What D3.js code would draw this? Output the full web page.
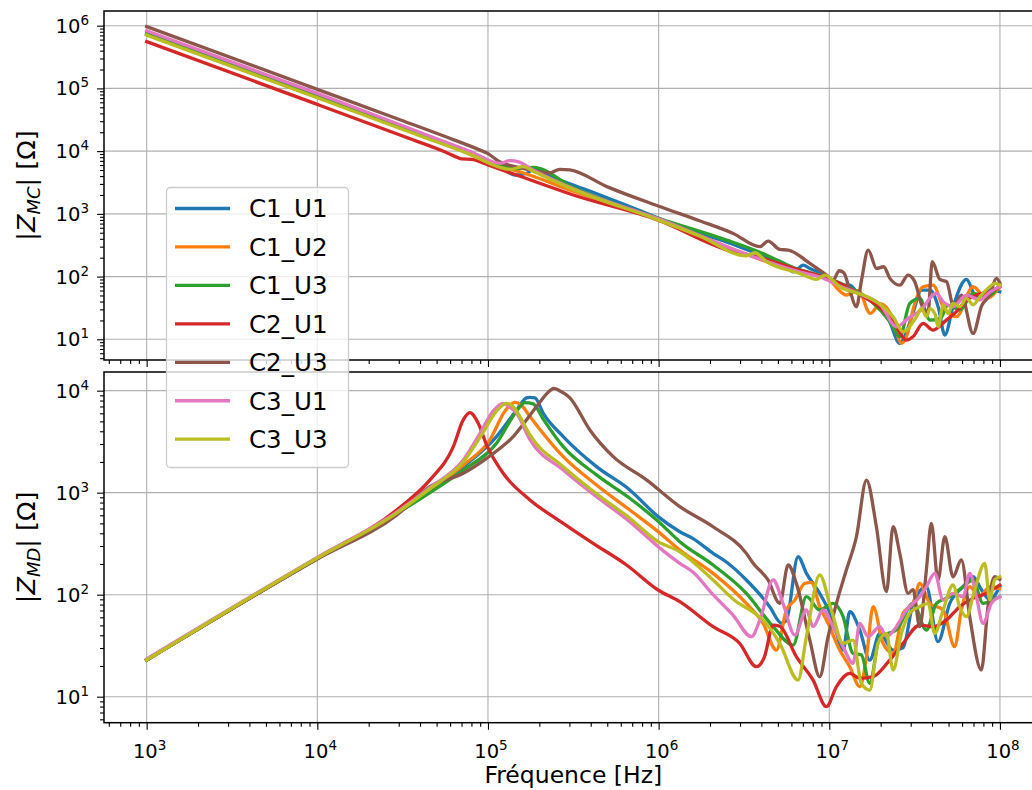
<!DOCTYPE html>
<html><head><meta charset="utf-8">
<script src="https://cdn.jsdelivr.net/npm/d3@7"></script>
<style>body{margin:0;background:#fff} text{font-family:"DejaVu Sans",sans-serif;fill:#000}</style>
</head><body><svg id="c" width="1032" height="790"></svg>
<script>
// ---- series ----
const seriesNames  = ["C1_U1","C1_U2","C1_U3","C2_U1","C2_U3","C3_U1","C3_U3"];
const seriesColors = ["#1f77b4","#ff7f0e","#2ca02c","#d62728","#8c564b","#e377c2","#bcbd22"];
// Values, stored as decade exponents:
// [log10(frequency / Hz), log10(|Z| / Ohm)]
// ---- |Z_MC| (top panel) ----
const mcC1U1 = [[3,5.875],[4,4.875],[4.6,4.27],[4.9,3.97],[5.0,3.85],[5.07,3.752],[5.158,3.619],[5.226,3.645],[5.265,3.71],[5.4,3.56],[5.6,3.36],[5.8,3.15],[6.0,2.93],[6.2,2.72],[6.4,2.55],[6.6,2.34],[6.75,2.18],[6.788,2.077],[6.808,2.103],[6.847,2.183],[6.886,2.13],[6.98,2.02],[7.06,1.86],[7.12,1.865],[7.16,1.76],[7.25,1.6],[7.35,1.3],[7.413,0.934],[7.45,1.1],[7.49,1.413],[7.54,1.785],[7.59,1.785],[7.64,1.5],[7.677,1.067],[7.725,1.52],[7.804,1.955],[7.862,1.678],[7.94,1.785],[7.999,1.758]];
const mcC1U2 = [[3,5.86],[4,4.86],[4.6,4.26],[4.9,3.96],[5.07,3.76],[5.2,3.66],[5.5,3.36],[6,2.91],[6.5,2.37],[6.8,2.09],[6.98,1.99],[7.1,1.705],[7.17,1.78],[7.24,1.413],[7.3,1.57],[7.37,1.35],[7.423,0.934],[7.46,1.1],[7.49,1.466],[7.55,1.838],[7.608,1.865],[7.667,1.52],[7.745,1.36],[7.843,1.838],[7.92,1.652],[7.999,1.838]];
const mcC1U3 = [[3,5.86],[4,4.86],[4.6,4.265],[4.9,3.97],[5.07,3.77],[5.15,3.72],[5.265,3.741],[5.5,3.42],[6,2.93],[6.398,2.582],[6.6,2.38],[6.8,2.13],[6.98,1.99],[7.1,1.85],[7.25,1.6],[7.35,1.3],[7.413,1.04],[7.472,1.572],[7.53,1.652],[7.59,1.306],[7.65,1.33],[7.696,1.545],[7.765,1.47],[7.843,1.731],[7.92,1.68],[7.999,1.865]];
const mcC2U1 = [[3,5.745],[4,4.745],[4.5,4.24],[4.75,3.985],[4.82,3.9],[4.845,3.875],[4.904,3.869],[5.0,3.78],[5.167,3.619],[5.5,3.30],[5.997,2.9],[6.437,2.396],[6.534,2.343],[6.827,2.104],[6.98,1.98],[7.1,1.84],[7.2,1.68],[7.3,1.5],[7.38,1.25],[7.452,0.987],[7.49,1.04],[7.55,1.253],[7.608,1.147],[7.686,1.306],[7.745,1.44],[7.804,1.625],[7.862,1.705],[7.94,1.758],[7.999,1.838]];
const mcC2U3 = [[3,5.985],[4,4.985],[4.484,4.5],[4.8,4.18],[4.95,4.02],[5.0,3.96],[5.068,3.83],[5.2,3.73],[5.363,3.655],[5.42,3.71],[5.48,3.70],[5.7,3.43],[5.997,3.125],[6.24,2.89],[6.437,2.688],[6.593,2.476],[6.642,2.566],[6.71,2.433],[6.759,2.423],[6.886,2.21],[6.984,2.024],[7.023,1.944],[7.058,2.093],[7.085,2.061],[7.12,1.785],[7.159,1.519],[7.189,1.944],[7.228,2.423],[7.277,2.13],[7.319,2.157],[7.355,1.971],[7.413,1.864],[7.462,2.024],[7.501,1.918],[7.546,1.519],[7.579,1.439],[7.603,2.236],[7.648,1.955],[7.687,1.918],[7.729,1.519],[7.774,1.705],[7.843,1.093],[7.892,1.529],[7.94,1.705],[7.979,1.971],[7.999,1.902]];
const mcC3U1 = [[3,5.92],[4,4.92],[4.6,4.3],[4.9,3.99],[5.07,3.805],[5.128,3.847],[5.18,3.83],[5.25,3.72],[5.5,3.40],[6.0,2.92],[6.5,2.37],[6.83,2.07],[6.95,1.99],[7.06,1.85],[7.2,1.7],[7.3,1.55],[7.394,1.2],[7.47,1.35],[7.53,1.45],[7.628,1.731],[7.667,1.6],[7.725,1.52],[7.804,1.705],[7.882,1.63],[7.94,1.75],[7.999,1.84]];
const mcC3U3 = [[3,5.85],[4,4.85],[4.6,4.245],[4.9,3.94],[5.07,3.741],[5.128,3.709],[5.207,3.752],[5.265,3.68],[5.5,3.39],[6.0,2.9],[6.24,2.646],[6.515,2.33],[6.564,2.38],[6.632,2.237],[6.827,2.05],[6.925,1.955],[6.974,2.024],[7.062,1.837],[7.198,1.705],[7.296,1.561],[7.374,1.359],[7.433,1.12],[7.462,1.173],[7.511,1.359],[7.54,1.492],[7.57,1.359],[7.59,1.49],[7.62,1.4],[7.638,1.2],[7.667,1.545],[7.696,1.41],[7.725,1.572],[7.765,1.52],[7.804,1.652],[7.843,1.55],[7.882,1.678],[7.94,1.838],[7.969,1.891],[7.999,1.865]];
// ---- |Z_MD| (bottom panel) ----
const mdC1U1 = [[3,1.36],[4,2.355],[4.465,2.795],[4.66,3.02],[4.855,3.255],[5.05,3.55],[5.168,3.811],[5.226,3.93],[5.246,3.935],[5.275,3.93],[5.324,3.778],[5.441,3.55],[5.636,3.255],[5.831,3.027],[5.997,2.765],[6.124,2.617],[6.202,2.55],[6.319,2.405],[6.397,2.32],[6.514,2.144],[6.612,1.965],[6.651,1.882],[6.72,1.72],[6.749,1.75],[6.817,2.372],[6.866,2.209],[6.944,2.013],[7.022,1.752],[7.081,1.457],[7.12,1.833],[7.179,1.653],[7.237,1.359],[7.296,1.621],[7.374,1.457],[7.432,1.48],[7.491,1.915],[7.569,2.078],[7.637,1.539],[7.706,1.915],[7.784,2.078],[7.842,2.176],[7.891,2.05],[7.94,1.95],[7.999,2.08]];
const mdC1U2 = [[3,1.36],[4,2.355],[4.465,2.8],[4.66,3.03],[4.855,3.27],[5.011,3.517],[5.1,3.8],[5.158,3.886],[5.2,3.85],[5.246,3.746],[5.441,3.353],[5.636,3.075],[5.831,2.83],[5.997,2.618],[6.124,2.438],[6.319,2.209],[6.514,1.915],[6.612,1.719],[6.69,1.457],[6.749,1.85],[6.798,1.947],[6.856,2.111],[6.895,2.12],[6.944,1.882],[6.993,1.72],[7.061,1.457],[7.12,1.294],[7.179,1.098],[7.218,1.39],[7.257,1.882],[7.315,1.523],[7.374,1.425],[7.432,1.817],[7.491,1.915],[7.53,2.111],[7.589,1.915],[7.667,1.85],[7.735,1.49],[7.774,1.85],[7.823,2.078],[7.881,1.98],[7.94,2.078],[7.999,2.06]];
const mdC1U3 = [[3,1.36],[4,2.355],[4.465,2.795],[4.66,3.0],[4.855,3.22],[5.05,3.484],[5.168,3.8],[5.216,3.883],[5.265,3.87],[5.324,3.72],[5.441,3.451],[5.636,3.174],[5.831,2.945],[5.997,2.72],[6.124,2.52],[6.319,2.291],[6.514,2.013],[6.671,1.686],[6.788,1.506],[6.866,1.98],[6.944,1.85],[7.022,1.915],[7.081,1.784],[7.139,1.425],[7.188,1.41],[7.237,1.131],[7.296,1.588],[7.393,1.653],[7.491,1.915],[7.569,1.653],[7.628,1.915],[7.706,1.98],[7.784,2.078],[7.842,2.144],[7.901,1.915],[7.96,1.95],[7.999,1.98]];
const mdC2U1 = [[3,1.365],[4,2.36],[4.465,2.83],[4.66,3.125],[4.797,3.451],[4.855,3.713],[4.894,3.785],[4.943,3.68],[4.992,3.468],[5.089,3.19],[5.246,2.929],[5.441,2.70],[5.616,2.504],[5.812,2.291],[5.997,2.046],[6.124,1.931],[6.319,1.686],[6.475,1.523],[6.573,1.294],[6.62,1.39],[6.671,1.702],[6.71,1.69],[6.807,1.392],[6.905,1.163],[6.983,0.902],[7.042,1.098],[7.12,1.229],[7.179,1.18],[7.257,1.196],[7.354,1.359],[7.432,1.523],[7.53,1.702],[7.608,1.686],[7.686,1.751],[7.764,1.882],[7.842,1.964],[7.92,2.013],[7.999,2.095]];
const mdC2U3 = [[3,1.36],[4,2.35],[4.465,2.78],[4.66,3.06],[4.855,3.19],[4.992,3.337],[5.148,3.55],[5.285,3.844],[5.35,3.98],[5.386,4.023],[5.42,4.0],[5.48,3.93],[5.597,3.615],[5.734,3.353],[5.929,3.125],[6.124,2.863],[6.319,2.666],[6.514,2.405],[6.554,2.308],[6.641,2.144],[6.71,1.915],[6.759,2.291],[6.807,2.111],[6.886,1.555],[6.944,1.196],[6.993,1.588],[7.042,1.915],[7.1,2.242],[7.159,2.568],[7.218,3.124],[7.276,2.666],[7.335,2.029],[7.374,2.666],[7.413,2.405],[7.462,2.013],[7.491,2.05],[7.53,1.686],[7.569,2.242],[7.598,2.699],[7.637,2.144],[7.677,2.568],[7.725,2.176],[7.774,2.34],[7.823,1.784],[7.891,1.261],[7.93,1.882],[7.969,2.176],[7.999,2.15]];
const mdC3U1 = [[3,1.37],[4,2.365],[4.465,2.81],[4.66,3.05],[4.855,3.32],[4.953,3.582],[5.03,3.8],[5.089,3.876],[5.12,3.85],[5.168,3.778],[5.246,3.52],[5.441,3.223],[5.636,2.961],[5.831,2.716],[5.997,2.471],[6.124,2.307],[6.202,2.22],[6.319,2.0],[6.436,1.8],[6.544,1.588],[6.593,1.75],[6.671,2.144],[6.729,1.915],[6.798,1.604],[6.866,1.85],[6.905,1.686],[6.964,1.85],[7.022,1.686],[7.081,1.49],[7.139,1.327],[7.179,1.719],[7.227,1.59],[7.296,1.686],[7.335,1.59],[7.393,1.686],[7.452,1.85],[7.53,1.98],[7.569,2.078],[7.618,2.209],[7.667,1.947],[7.725,2.013],[7.784,1.98],[7.823,2.209],[7.862,1.98],[7.901,1.719],[7.95,1.915],[7.999,1.98]];
const mdC3U3 = [[3,1.36],[4,2.36],[4.465,2.8],[4.66,3.04],[4.855,3.3],[4.96,3.56],[5.05,3.8],[5.109,3.876],[5.15,3.84],[5.187,3.746],[5.246,3.566],[5.441,3.255],[5.636,2.99],[5.831,2.75],[5.997,2.52],[6.124,2.421],[6.319,2.144],[6.456,1.931],[6.534,1.85],[6.612,1.751],[6.71,1.523],[6.817,1.163],[6.866,1.588],[6.944,2.193],[7.012,1.85],[7.081,1.523],[7.139,1.555],[7.188,1.131],[7.237,1.065],[7.286,1.523],[7.335,1.62],[7.374,1.261],[7.423,1.621],[7.472,1.82],[7.53,1.882],[7.579,1.915],[7.618,1.621],[7.667,1.85],[7.725,2.095],[7.764,1.882],[7.803,1.784],[7.852,2.046],[7.911,2.307],[7.94,1.95],[7.969,2.144],[7.999,2.176]];

const mcSeries = [mcC1U1, mcC1U2, mcC1U3, mcC2U1, mcC2U3, mcC3U1, mcC3U3];
const mdSeries = [mdC1U1, mdC1U2, mdC1U3, mdC2U1, mdC2U3, mdC3U1, mdC3U3];

const xTickExps = [3,4,5,6,7,8];
const mcTickExps = [1,2,3,4,5,6];
const mdTickExps = [1,2,3,4];
const xLabel = "Fréquence [Hz]";

// ---- layout ----
const svg = d3.select("#c");
const L = 104, R = 1042.6;
const panels = [
  {top: 11,  bot: 360,   dom: [Math.pow(10,0.67),  Math.pow(10,6.234)], data: mcSeries, ticks: mcTickExps, sub: "MC", id: "mc"},
  {top: 372, bot: 722.7, dom: [Math.pow(10,0.745), Math.pow(10,4.183)], data: mdSeries, ticks: mdTickExps, sub: "MD", id: "md"}
];
const x = d3.scaleLog().domain([Math.pow(10,2.75), Math.pow(10,8.25)]).range([L, R]);
const gridCol = "#b0b0b0";

function minorVals(domain, lo, hi) {
  const out = [];
  for (let d = lo; d <= hi; d++) for (let k = 2; k <= 9; k++) {
    const v = k * Math.pow(10, d);
    if (v >= domain[0] && v <= domain[1]) out.push(v);
  }
  return out;
}

panels.forEach((p, pi) => {
  const y = d3.scaleLog().domain(p.dom).range([p.bot, p.top]);
  const g = svg.append("g");
  svg.append("clipPath").attr("id", "clip" + p.id)
    .append("rect").attr("x", L).attr("y", p.top).attr("width", R - L).attr("height", p.bot - p.top);

  const xMaj = xTickExps.map(e => Math.pow(10, e));
  const yMaj = p.ticks.map(e => Math.pow(10, e));
  g.append("g").selectAll("line").data(xMaj).join("line")
    .attr("x1", d => x(d)).attr("x2", d => x(d)).attr("y1", p.top).attr("y2", p.bot)
    .attr("stroke", gridCol).attr("stroke-width", 1.1);
  g.append("g").selectAll("line").data(yMaj).join("line")
    .attr("x1", L).attr("x2", R).attr("y1", d => y(d)).attr("y2", d => y(d))
    .attr("stroke", gridCol).attr("stroke-width", 1.1);

  const line = d3.line()
    .x(d => x(Math.pow(10, d[0])))
    .y(d => y(Math.pow(10, d[1])))
    .curve(d3.curveMonotoneX);
  const lg = g.append("g").attr("clip-path", "url(#clip" + p.id + ")");
  p.data.forEach((s, i) => {
    lg.append("path").attr("d", line(s)).attr("fill", "none")
      .attr("stroke", seriesColors[i]).attr("stroke-width", 3.3)
      .attr("stroke-linejoin", "round").attr("stroke-linecap", "square");
  });

  const xa = g.append("g").attr("transform", `translate(0,${p.bot})`);
  xa.call(d3.axisBottom(x).tickValues(xMaj).tickSize(7).tickFormat(""));
  xa.append("g").call(d3.axisBottom(x).tickValues(minorVals(x.domain(), 2, 8)).tickSize(4).tickFormat(""));
  xa.selectAll(".domain").remove();
  xa.selectAll("line").attr("stroke", "#000").attr("stroke-width", 1.1);

  const ya = g.append("g").attr("transform", `translate(${L},0)`);
  ya.call(d3.axisLeft(y).tickValues(yMaj).tickSize(7).tickFormat(""));
  ya.append("g").call(d3.axisLeft(y).tickValues(minorVals(p.dom, 0, 6)).tickSize(4).tickFormat(""));
  ya.selectAll(".domain").remove();
  ya.selectAll("line").attr("stroke", "#000").attr("stroke-width", 1.1);

  p.ticks.forEach(e => {
    const t = g.append("text").attr("x", 89).attr("y", y(Math.pow(10, e)) + 7)
      .attr("text-anchor", "end").attr("font-size", 19.5);
    t.append("tspan").text("10");
    t.append("tspan").attr("font-size", 13.5).attr("dy", -8).text(e);
  });

  g.append("rect").attr("x", L).attr("y", p.top).attr("width", R - L).attr("height", p.bot - p.top)
    .attr("fill", "none").attr("stroke", "#000").attr("stroke-width", 1.5);

  const cy = (p.top + p.bot) / 2;
  const yl = g.append("text").attr("transform", `translate(35,${cy}) rotate(-90)`)
    .attr("text-anchor", "middle").attr("font-size", 25.5);
  yl.append("tspan").text("|");
  yl.append("tspan").attr("font-style", "italic").text("Z");
  yl.append("tspan").attr("font-style", "italic").attr("font-size", 18).attr("dy", 4.5).text(p.sub);
  yl.append("tspan").attr("dy", -4.5).text("| [Ω]");

  if (pi === 1) {
    xTickExps.forEach(e => {
      const t = g.append("text").attr("x", x(Math.pow(10, e)) + 3).attr("y", p.bot + 35)
        .attr("text-anchor", "middle").attr("font-size", 19.5);
      t.append("tspan").text("10");
      t.append("tspan").attr("font-size", 13.5).attr("dy", -8).text(e);
    });
    g.append("text").attr("x", (L + R) / 2).attr("y", 783).attr("text-anchor", "middle")
      .attr("font-size", 23.5).text(xLabel);
  }
});

// legend
const lgX = 166.5, lgY = 187.5;
const leg = svg.append("g");
leg.append("rect").attr("x", lgX).attr("y", lgY).attr("width", 182).attr("height", 280)
  .attr("rx", 4).attr("fill", "#fff").attr("fill-opacity", 0.8)
  .attr("stroke", "#cccccc").attr("stroke-width", 1.3);
seriesNames.forEach((n, i) => {
  const yy = 208.5 + i * 38.45;
  leg.append("line").attr("x1", 175).attr("x2", 230).attr("y1", yy).attr("y2", yy)
    .attr("stroke", seriesColors[i]).attr("stroke-width", 3.3);
  leg.append("text").attr("x", 249).attr("y", yy + 8.8).attr("font-size", 24.5).text(n);
});
</script></body></html>
